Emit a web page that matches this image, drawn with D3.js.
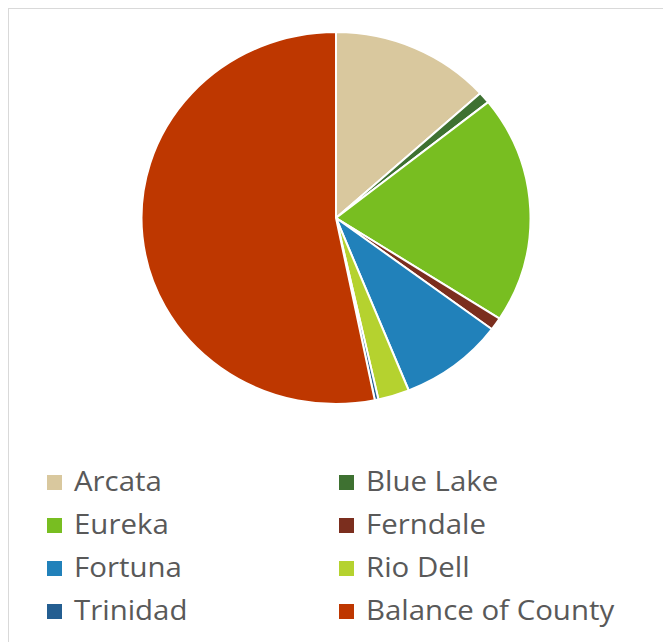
<!DOCTYPE html>
<html>
<head>
<meta charset="utf-8">
<script src="https://cdn.jsdelivr.net/npm/d3@7"></script>
<style>
html,body{margin:0;padding:0;background:#fff;}
svg{display:block;}
</style>
</head>
<body>
<script>
const categories = ["Arcata","Blue Lake","Eureka","Ferndale","Fortuna","Rio Dell","Trinidad","Balance of County"];
const values = [13.3, 1.0, 19.8, 1.1, 8.7, 2.6, 0.3, 53.2];
const colors = ["#D9C89E","#3E7131","#78BE21","#7B2E1E","#2181BA","#B5D22F","#245E91","#BE3700"];

const W = 663, H = 642;
const svg = d3.select("body").append("svg").attr("width", W).attr("height", H);

// chart border
svg.append("rect").attr("x", 8.5).attr("y", 8.5).attr("width", 700).attr("height", 700)
  .attr("fill", "none").attr("stroke", "#D9D9D9").attr("stroke-width", 1);

const cx = 336, cy = 218, rx = 194.5, ry = 186;
const color = d3.scaleOrdinal().domain(categories).range(colors);
const data = categories.map((c, i) => ({ name: c, value: values[i] }));
const pie = d3.pie().sort(null).value(d => d.value);
const arc = d3.arc().innerRadius(0).outerRadius(ry);

const g = svg.append("g").attr("transform", `translate(${cx},${cy}) scale(${rx / ry},1)`);
g.selectAll("path").data(pie(data)).join("path")
  .attr("d", arc)
  .attr("fill", d => color(d.data.name))
  .attr("stroke", "#fff")
  .attr("stroke-width", 2)
  .attr("vector-effect", "non-scaling-stroke")
  .attr("stroke-linejoin", "round");

// legend
const colX = [47, 339];
const rowBase = [491, 534, 577, 620];
const leg = svg.append("g");
data.forEach((d, i) => {
  const col = i % 2, row = Math.floor(i / 2);
  const x = colX[col], y = rowBase[row];
  leg.append("rect").attr("x", x).attr("y", y - 16).attr("width", 15).attr("height", 15)
    .attr("fill", color(d.name));
  leg.append("text").attr("transform", `translate(${x + 27},${y}) scale(1.07,1)`)
    .attr("font-family", "'Open Sans', sans-serif")
    .attr("font-size", 27.5)
    .attr("fill", "#595959")
    .text(d.name);
});
</script>
</body>
</html>
